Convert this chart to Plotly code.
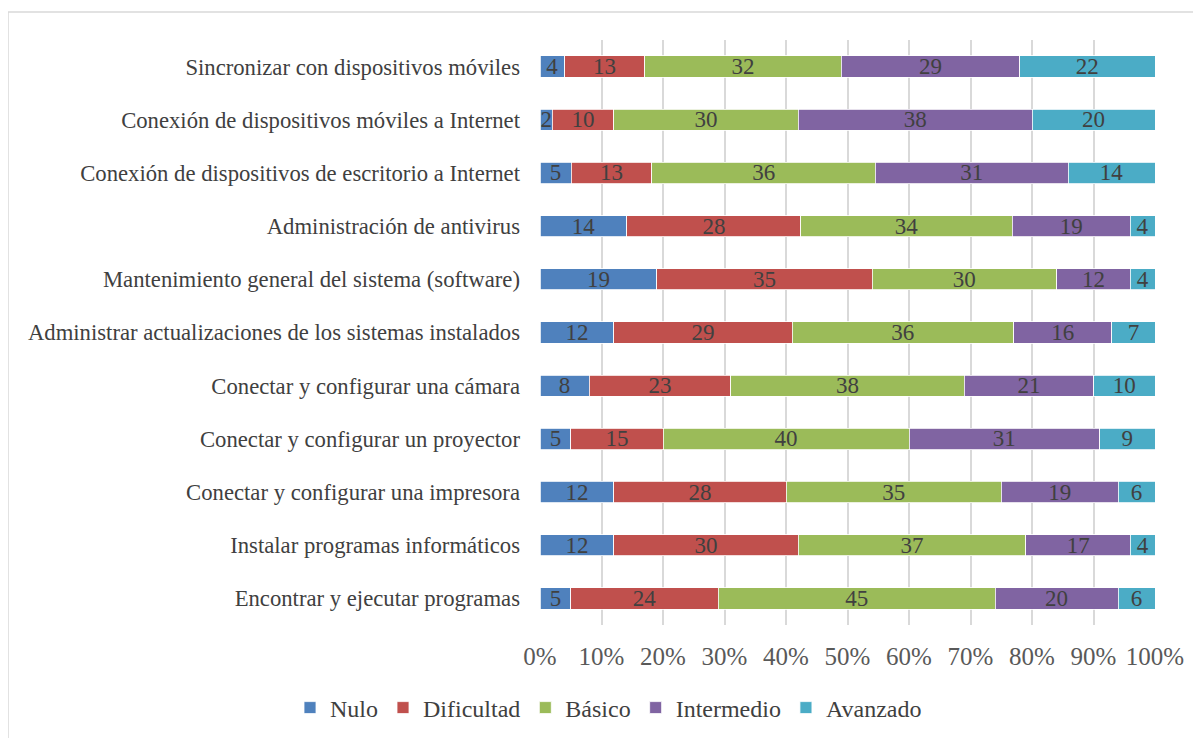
import plotly.graph_objects as go

# --- data (top to bottom) ---
categorias = [
    "Sincronizar con dispositivos móviles",
    "Conexión de dispositivos móviles a Internet",
    "Conexión de dispositivos de escritorio a Internet",
    "Administración de antivirus",
    "Mantenimiento general del sistema (software)",
    "Administrar actualizaciones de los sistemas instalados",
    "Conectar y configurar una cámara",
    "Conectar y configurar un proyector",
    "Conectar y configurar una impresora",
    "Instalar programas informáticos",
    "Encontrar y ejecutar programas",
]
nulo = [4, 2, 5, 14, 19, 12, 8, 5, 12, 12, 5]
dificultad = [13, 10, 13, 28, 35, 29, 23, 15, 28, 30, 24]
basico = [32, 30, 36, 34, 30, 36, 38, 40, 35, 37, 45]
intermedio = [29, 38, 31, 19, 12, 16, 21, 31, 19, 17, 20]
avanzado = [22, 20, 14, 4, 4, 7, 10, 9, 6, 4, 6]

tick_vals = [0, 10, 20, 30, 40, 50, 60, 70, 80, 90, 100]
tick_text = [f"{v}%" for v in tick_vals]

series = [
    ("Nulo", nulo, "#4F81BD"),
    ("Dificultad", dificultad, "#C0504D"),
    ("Básico", basico, "#9BBB59"),
    ("Intermedio", intermedio, "#8064A2"),
    ("Avanzado", avanzado, "#4BACC6"),
]

FONT = "Liberation Serif"
GREY = "#404040"

# plot area in figure px (page is offset 8px by the body margin)
L, T, PW, PH = 532, 32, 615, 585
W, H = 1201, 738

fig = go.Figure()
for name, vals, color in series:
    fig.add_trace(go.Bar(
        name=name,
        y=categorias,
        x=vals,
        orientation="h",
        marker=dict(color=color, line=dict(color="white", width=0.8)),
        text=vals,
        texttemplate="%{text}",
        textposition="inside",
        insidetextanchor="middle",
        textangle=0,
        constraintext="none",
        insidetextfont=dict(family=FONT, size=23, color=GREY),
        hoverinfo="skip",
    ))

fig.update_layout(
    barmode="stack",
    barnorm="percent",
    bargap=0.6,
    width=W,
    height=H,
    margin=dict(l=L, r=W - L - PW, t=T, b=H - T - PH, autoexpand=False),
    paper_bgcolor="white",
    plot_bgcolor="white",
    font=dict(family=FONT, color=GREY),
    xaxis=dict(
        range=[0, 100],
        tickvals=tick_vals,
        ticktext=tick_text,
        tickfont=dict(size=25, color="#595959"),
        showgrid=True,
        gridcolor="#D9D9D9",
        gridwidth=1.5,
        zeroline=False,
        showline=False,
        ticks="",
        ticklabelstandoff=14,
    ),
    yaxis=dict(
        autorange="reversed",
        tickfont=dict(size=22.7, color=GREY),
        ticks="",
        showline=False,
        ticklabelstandoff=19,
    ),
    legend=dict(
        orientation="h",
        x=(282 - L) / PW, xanchor="left",
        y=-(700 - T - PH) / PH, yanchor="middle",
        font=dict(size=24, color=GREY),
        traceorder="normal",
        itemwidth=30,
    ),
    showlegend=True,
)

# chart border (extends past the right/bottom edge as in the original)
fig.add_shape(type="rect", xref="paper", yref="paper",
              x0=-L / PW, x1=(W + 20 - L) / PW,
              y0=-(H + 20 - T - PH) / PH, y1=1 + (T - 4) / PH,
              line=dict(color="#D9D9D9", width=1.5), layer="below")

fig.write_html("out.html")
